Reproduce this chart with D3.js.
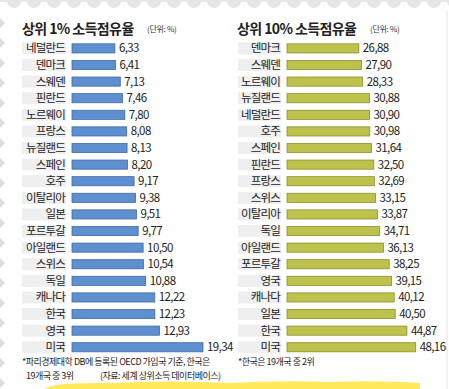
<!DOCTYPE html>
<html>
<head>
<meta charset="utf-8">
<script src="https://cdn.jsdelivr.net/npm/d3@7"></script>
<style>
  body { margin: 0; background: #fff; }
  text { font-family: "Noto Sans CJK KR", "Noto Sans", sans-serif; }
</style>
</head>
<body>
<svg id="chart" width="449" height="389"></svg>
<script>
// 상위 1% 소득점유율
var top1Countries = ["네덜란드","덴마크","스웨덴","핀란드","노르웨이","프랑스","뉴질랜드","스페인","호주","이탈리아","일본","포르투갈","아일랜드","스위스","독일","캐나다","한국","영국","미국"];
var top1Values = [6.33,6.41,7.13,7.46,7.80,8.08,8.13,8.20,9.17,9.38,9.51,9.77,10.50,10.54,10.88,12.22,12.23,12.93,19.34];
// 상위 10% 소득점유율
var top10Countries = ["덴마크","스웨덴","노르웨이","뉴질랜드","네덜란드","호주","스페인","핀란드","프랑스","스위스","이탈리아","독일","아일랜드","포르투갈","영국","캐나다","일본","한국","미국"];
var top10Values = [26.88,27.90,28.33,30.88,30.90,30.98,31.64,32.50,32.69,33.15,33.87,34.71,36.13,38.25,39.15,40.12,40.50,44.87,48.16];

var svg = d3.select("#chart");
var W = 449, H = 389;

// stamp-like frame
var frame = svg.append("g");
frame.append("rect").attr("x", 0).attr("y", 0).attr("width", W).attr("height", H).attr("fill", "#ffffff");
for (var i = 0; i < 24; i++) {
	frame.append("circle").attr("cx", 14 + i * 20).attr("cy", 1).attr("r", 7).attr("fill", "#e6e6e6");
}
frame.append("rect").attr("x", 0).attr("y", 0).attr("width", W).attr("height", 2).attr("fill", "#e6e6e6");
for (var i = 0; i < 20; i++) {
	frame.append("path")
		.attr("d", "M0," + (18 + i * 20) + " l5,5 l-5,5 z")
		.attr("fill", "#dcdcdc");
}
frame.append("line").attr("x1", 447).attr("x2", 447).attr("y1", 10).attr("y2", H)
	.attr("stroke", "#eeeeee").attr("stroke-width", 1.5);

// yellow highlight at bottom
var hl = svg.append("g").attr("opacity", 0.9);
hl.append("path")
	.attr("d", "M45,389 Q50,382 110,383 Q170,380 230,383 Q280,380 330,382 Q380,380 420,383 L420,389 Z")
	.attr("fill", "#ffe84a");

function drawPanel(opt) {
	var g = svg.append("g");
	var y = d3.scaleBand()
		.domain(opt.countries)
		.range([opt.top, opt.top + opt.step * opt.countries.length])
		.paddingInner(0.45)
		.paddingOuter(0.2);
	var x = d3.scaleLinear()
		.domain([0, opt.max])
		.range([opt.x0, opt.x1]);

	g.append("text")
		.attr("x", opt.titleX).attr("y", 34)
		.attr("font-size", 14).attr("font-weight", "bold").attr("fill", "#222")
		.attr("letter-spacing", -0.6)
		.text(opt.title);
	g.append("text")
		.attr("x", opt.unitX).attr("y", 32)
		.attr("font-size", 8).attr("fill", "#333")
		.attr("letter-spacing", -0.3)
		.text("(단위: %)");

	var rows = g.selectAll(".row")
		.data(opt.countries)
		.enter().append("g")
		.attr("class", "row");

	rows.append("rect")
		.attr("x", opt.boxX)
		.attr("y", function(d) { return y(d) + y.bandwidth() / 2 - 6; })
		.attr("width", opt.x0 - 6 - opt.boxX)
		.attr("height", 12)
		.attr("fill", "#efefef");

	rows.append("text")
		.attr("x", opt.x0 - 7)
		.attr("y", function(d) { return y(d) + y.bandwidth() / 2 + 4; })
		.attr("text-anchor", "end")
		.attr("font-size", 11.5)
		.attr("letter-spacing", -0.8)
		.attr("fill", "#222")
		.text(function(d) { return d; });

	rows.append("rect")
		.attr("x", x(0))
		.attr("y", function(d) { return y(d); })
		.attr("width", function(d, i) { return x(opt.values[i]) - x(0); })
		.attr("height", y.bandwidth())
		.attr("fill", opt.color)
		.attr("stroke", opt.edge)
		.attr("stroke-width", 0.8);

	rows.append("text")
		.attr("x", function(d, i) { return x(opt.values[i]) + 4; })
		.attr("y", function(d) { return y(d) + y.bandwidth() / 2 + 4; })
		.attr("font-size", 11.5)
		.attr("letter-spacing", -0.6)
		.attr("fill", "#222")
		.text(function(d, i) { return opt.values[i].toFixed(2).replace(".", ","); });
}

drawPanel({
	countries: top1Countries, values: top1Values,
	top: 40.5, step: 16.56, x0: 72, x1: 203, max: 19.34,
	boxX: 22, titleX: 22, unitX: 147,
	title: "상위 1% 소득점유율",
	color: "#5e8fce", edge: "#3f6ba6"
});
drawPanel({
	countries: top10Countries, values: top10Values,
	top: 40.5, step: 16.56, x0: 287, x1: 415.7, max: 48.16,
	boxX: 238, titleX: 237, unitX: 370,
	title: "상위 10% 소득점유율",
	color: "#bcc24b", edge: "#8a9030"
});

// footnotes
var notes = svg.append("g").attr("font-size", 9).attr("fill", "#222");
notes.append("text").attr("x", 22).attr("y", 365).attr("letter-spacing", -0.5)
	.text("*파리경제대학 DB에 등록된 OECD 가입국 기준,  한국은");
notes.append("text").attr("x", 26).attr("y", 379).attr("letter-spacing", -0.5)
	.text("19개국 중 3위");
notes.append("text").attr("x", 100).attr("y", 379).attr("letter-spacing", -0.5)
	.text("(자료: 세계 상위소득 데이터베이스)");
notes.append("text").attr("x", 238).attr("y", 365).attr("letter-spacing", -0.5)
	.text("*한국은 19개국 중 2위");
</script>
</body>
</html>
